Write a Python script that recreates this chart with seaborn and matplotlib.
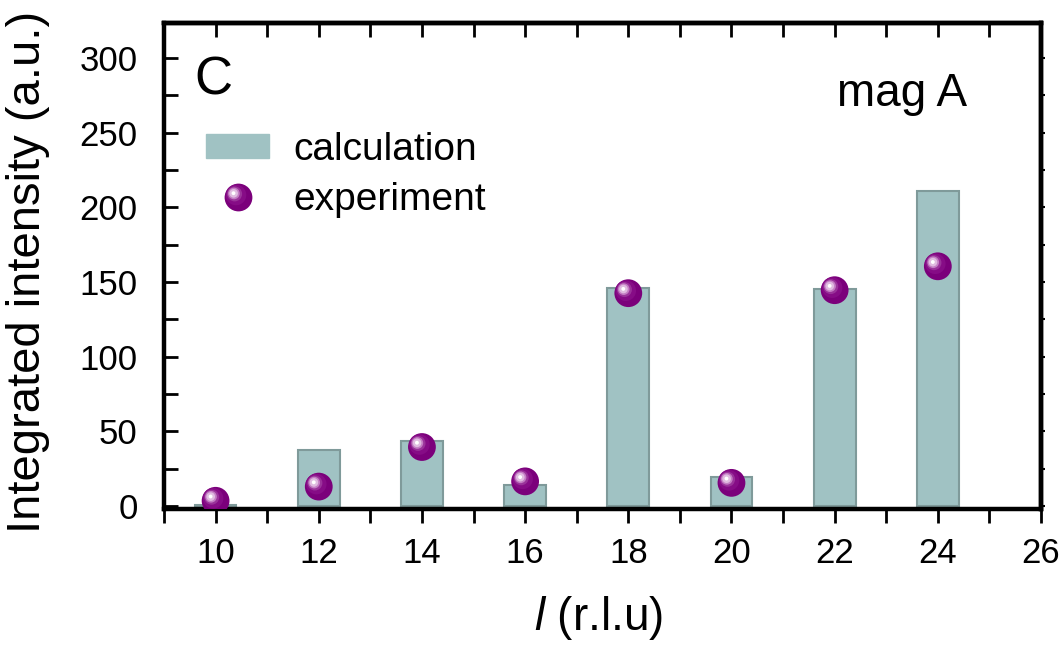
import matplotlib
matplotlib.use("Agg")
import matplotlib.pyplot as plt
import seaborn as sns
import numpy as np
from matplotlib.patches import Patch
from matplotlib.lines import Line2D
from matplotlib.path import Path
from matplotlib.markers import MarkerStyle
from matplotlib.ticker import MultipleLocator

l_values = [10, 12, 14, 16, 18, 20, 22, 24]
calculation = [1, 37.5, 43.5, 14, 146, 19.5, 145.5, 211]
experiment = [3.5, 13, 39.5, 16.5, 142.5, 15.5, 144.5, 160.5]

sns.set_theme(style="ticks")
plt.rcParams['font.family'] = ['Liberation Sans', 'DejaVu Sans']
plt.rcParams['mathtext.fontset'] = 'custom'
plt.rcParams['mathtext.rm'] = 'Liberation Sans'
plt.rcParams['mathtext.it'] = 'Liberation Sans:italic'
for k in ['text.color', 'axes.labelcolor', 'xtick.color', 'ytick.color', 'axes.edgecolor']:
    plt.rcParams[k] = 'black'


def ball_marker(cx, cy, r):
    circ = Path.circle((cx, cy), r)
    verts = np.vstack([circ.vertices, [[1, 1], [-1, -1]]])
    codes = np.concatenate([circ.codes, [Path.MOVETO, Path.MOVETO]])
    return MarkerStyle(Path(verts, codes))


# sphere layers: (marker, color)
ball_layers = [
    (ball_marker(0, 0, 1.0), "#7b007b"),
    (ball_marker(-0.18, 0.18, 0.74), "#860c86"),
    (ball_marker(-0.28, 0.26, 0.54), "#9a339a"),
    (ball_marker(-0.33, 0.29, 0.42), "#c47ec4"),
    (ball_marker(-0.35, 0.30, 0.31), "#e0bce0"),
    (ball_marker(-0.36, 0.31, 0.14), "#ffffff"),
]
ball_s = 400

fig = plt.figure(figsize=(10.61, 6.45), dpi=100)
ax = fig.add_axes([164 / 1061, 1 - 509 / 645, 877 / 1061, 486 / 645])

bar_color = "#a0c2c3"
sns.barplot(x=l_values, y=calculation, native_scale=True, width=0.405,
            color=bar_color, edgecolor="#7f9a9a", linewidth=1.5, saturation=1,
            ax=ax, zorder=2)

for i, (mk, col) in enumerate(ball_layers):
    sns.scatterplot(x=l_values, y=experiment, s=ball_s, marker=mk, color=col,
                    linewidth=0, edgecolor="none", ax=ax, zorder=3 + i, legend=False)

ax.set_xlim(9, 26)
ax.set_ylim(-2, 323.4)
ax.xaxis.set_major_locator(MultipleLocator(2))
ax.xaxis.set_minor_locator(MultipleLocator(1))
ax.yaxis.set_major_locator(MultipleLocator(50))
ax.yaxis.set_minor_locator(MultipleLocator(25))
ax.set_yticks([0, 50, 100, 150, 200, 250, 300])

for s in ax.spines.values():
    s.set_linewidth(3.2)
    s.set_color("black")

ax.tick_params(axis='x', which='both', direction='out', bottom=True, top=False,
               width=2, length=10, labelsize=25, pad=10)
ax.tick_params(axis='y', which='both', direction='in', left=True, right=False,
               width=2, length=10, labelsize=25, pad=19)
# top ticks inward at every integer
secx = ax.secondary_xaxis('top')
secx.xaxis.set_major_locator(MultipleLocator(1))
secx.tick_params(direction='in', length=10, width=2, labeltop=False)
secx.spines['top'].set_linewidth(3.2)
# small right ticks outward
secy = ax.secondary_yaxis('right')
secy.yaxis.set_major_locator(MultipleLocator(25))
secy.tick_params(direction='out', length=3, width=1.5, labelright=False)
secy.spines['right'].set_linewidth(3.2)

ax.set_xlabel(r"$\mathit{l}$ (r.l.u)", fontsize=33)
ax.xaxis.set_label_coords(0.496, -0.175)
ax.set_ylabel("Integrated intensity (a.u.)", fontsize=34)
ax.yaxis.set_label_coords(-0.13, 0.488)

ax.text(0.035, 0.852, "C", transform=ax.transAxes, fontsize=38, va='baseline', ha='left')
ax.text(0.767, 0.829, "mag A", transform=ax.transAxes, fontsize=33, va='baseline', ha='left')

ball_handle = tuple(Line2D([0], [0], marker=mk, linestyle='none', markersize=np.sqrt(ball_s),
                           markerfacecolor=col, markeredgecolor='none', markeredgewidth=0)
                    for mk, col in ball_layers)
handles = [Patch(facecolor=bar_color, edgecolor=bar_color), ball_handle]
ax.legend(handles=handles, labels=["calculation", "experiment"], loc='upper left',
          bbox_to_anchor=(0.0479, 0.776), borderaxespad=0, borderpad=0,
          frameon=False, fontsize=28, handlelength=1.62, handleheight=0.59,
          handletextpad=0.62, labelspacing=0.36)

fig.savefig("out.png", dpi=100)
